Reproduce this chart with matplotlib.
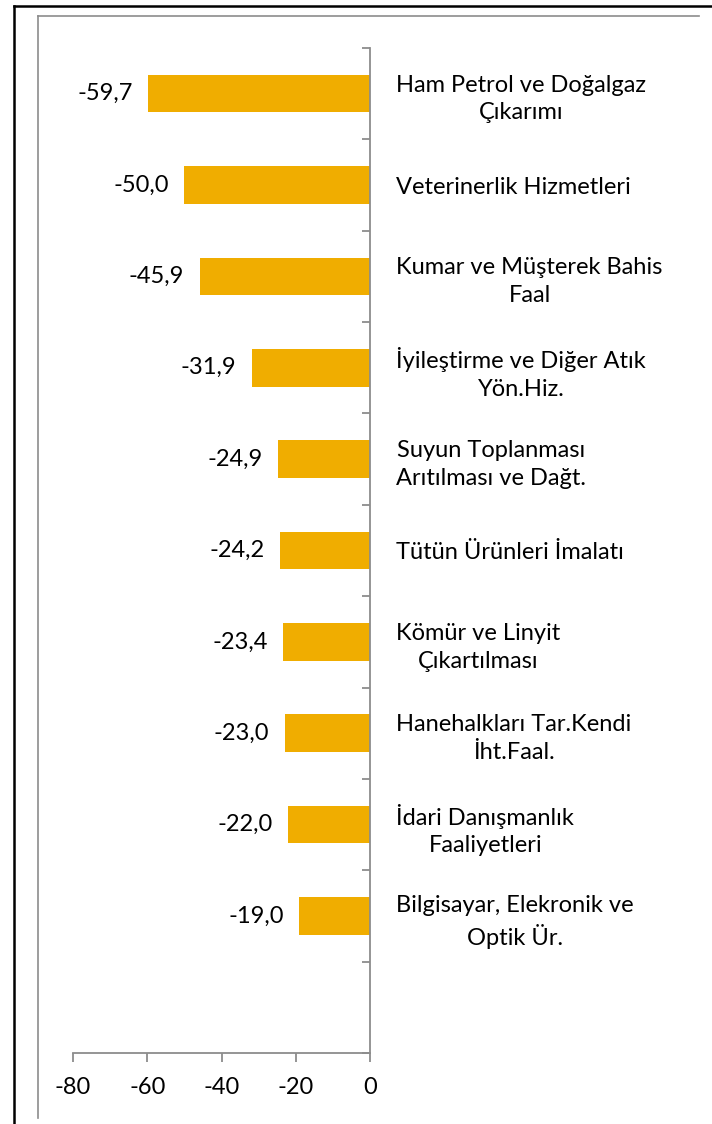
import numpy as np
import matplotlib
matplotlib.use("Agg")
import matplotlib.pyplot as plt
from matplotlib.lines import Line2D

plt.rcParams['font.family'] = ['Lato', 'DejaVu Sans']

# data, top to bottom (last slot is empty in the original)
categories = [
    "Ham Petrol ve Doğalgaz\nÇıkarımı",
    "Veterinerlik Hizmetleri",
    "Kumar ve Müşterek Bahis\nFaal",
    "İyileştirme ve Diğer Atık\nYön.Hiz.",
    "Suyun Toplanması\nArıtılması ve Dağt.",
    "Tütün Ürünleri İmalatı",
    "Kömür ve Linyit\nÇıkartılması",
    "Hanehalkları Tar.Kendi\nİht.Faal.",
    "İdari Danışmanlık\nFaaliyetleri",
    "Bilgisayar, Elekronik ve\nOptik Ür.",
    "",
]
values = [-59.7, -50.0, -45.9, -31.9, -24.9, -24.2, -23.4, -23.0, -22.0, -19.0, np.nan]
value_labels = ["-59,7", "-50,0", "-45,9", "-31,9", "-24,9", "-24,2", "-23,4", "-23,0", "-22,0", "-19,0", ""]
xticks = [-80, -60, -40, -20, 0]

W, H = 712, 1124
BAR = "#F0AD00"
GRID = "#8C8C8C"
FS = 17

fig = plt.figure(figsize=(W / 100, H / 100), dpi=100)
ax = fig.add_axes([73 / W, 1 - 1053 / H, (370 - 73) / W, (1053 - 48) / H])

n = len(categories)
pos = np.arange(n)
ax.barh(pos, values, height=0.41, color=BAR, zorder=2)
ax.set_ylim(n - 0.5, -0.5)
ax.set_xlim(-80, 0)

for p, v, lab in zip(pos, values, value_labels):
    if lab:
        ax.annotate(lab, (v, p), xytext=(-11, 0), textcoords="offset points",
                    ha="right", va="center", fontsize=FS)

# spines
for s in ["top", "left"]:
    ax.spines[s].set_visible(False)
for s in ["bottom", "right"]:
    ax.spines[s].set_color(GRID)
    ax.spines[s].set_linewidth(1.3)

ax.set_xticks(xticks)
ax.set_xticklabels([str(t) for t in xticks], fontsize=FS)
ax.tick_params(axis="x", direction="out", length=6.5, width=1.3, color=GRID, pad=11)

# boundary ticks on the right spine, labels at the bar centres
ax.yaxis.set_ticks_position("right")
ax.set_yticks(np.arange(n + 1) - 0.5)
ax.set_yticklabels([])
ax.tick_params(axis="y", which="major", direction="in", length=6, width=1.3, color=GRID)
ax.set_yticks(pos, minor=True)
ax.set_yticklabels(categories, minor=True, fontsize=FS)
ax.tick_params(axis="y", which="minor", length=0, pad=19, labelright=True, labelleft=False)
for t in ax.get_yticklabels(minor=True):
    t.set_horizontalalignment("left")
    t.set_multialignment("center")
    t.set_linespacing(1.4)

# frames of the original picture
def px_line(x0, y0, x1, y1, color, lw):
    fig.add_artist(Line2D([x0 / W, x1 / W], [1 - y0 / H, 1 - y1 / H],
                          color=color, linewidth=lw, transform=fig.transFigure))

px_line(14, 6, 712, 6, "black", 1.8)
px_line(14, 6, 14, 1124, "black", 1.8)
px_line(38, 16, 699, 16, GRID, 1.2)
px_line(38, 16, 38, 1118, GRID, 1.2)

fig.savefig("out.png", dpi=100)
